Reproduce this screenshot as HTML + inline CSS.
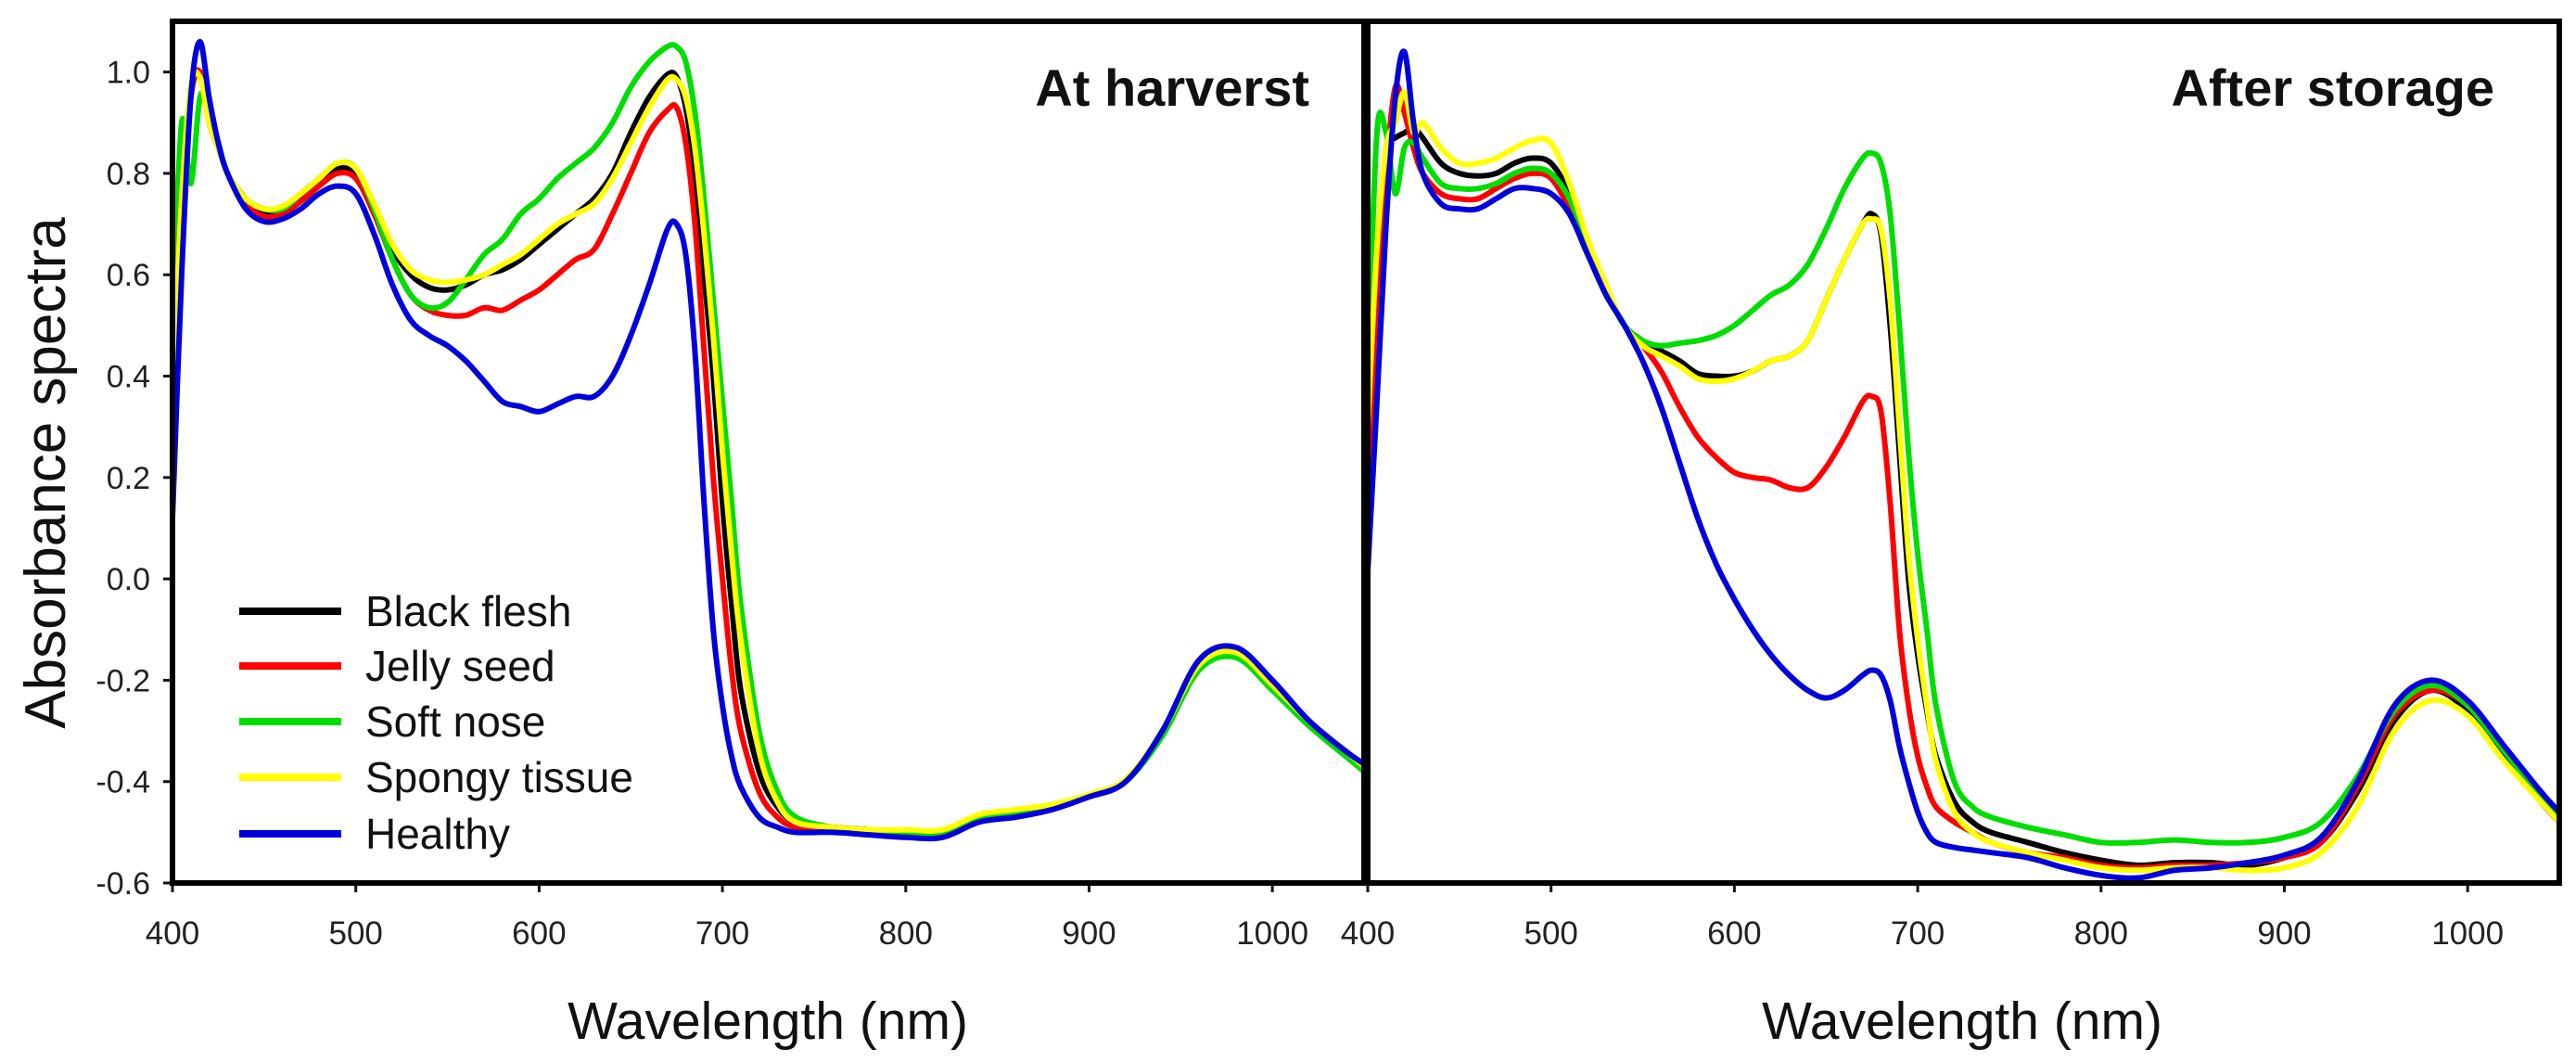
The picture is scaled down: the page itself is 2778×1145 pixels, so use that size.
<!DOCTYPE html>
<html><head><meta charset="utf-8">
<style>
html,body{margin:0;padding:0;background:#fff;}
svg{display:block;font-family:"Liberation Sans",Arial,sans-serif;}
</style></head>
<body>
<svg id="chart" width="2778" height="1145" viewBox="0 0 2778 1145" xmlns="http://www.w3.org/2000/svg">
<rect width="2778" height="1145" fill="#fff"/>
<g id="axes"></g>
<g id="series"></g>
<g id="frames"></g>
<text x="0" y="0" transform="translate(70,510) rotate(-90)" text-anchor="middle" font-size="62" fill="#111">Absorbance spectra</text>
<text x="828" y="1120" text-anchor="middle" font-size="57" fill="#111">Wavelength (nm)</text>
<text x="2116" y="1120" text-anchor="middle" font-size="57" fill="#111">Wavelength (nm)</text>
<text x="1412" y="114" text-anchor="end" font-size="56" font-weight="bold" fill="#111">At harverst</text>
<text x="2690" y="114" text-anchor="end" font-size="56" font-weight="bold" fill="#111">After storage</text>
<g id="legend"></g>
</svg>
<script>
const wavelengths=[400,405,410,415,420,425,430,440,450,460,470,480,490,500,510,520,530,540,550,560,570,580,590,600,610,620,630,640,650,660,670,675,680,685,690,695,700,705,710,720,730,740,760,780,800,820,840,860,880,900,920,940,960,980,1000,1020,1040,1050];
const seriesNames=["Black flesh","Jelly seed","Soft nose","Spongy tissue","Healthy"];
const yTicks=[-0.6,-0.4,-0.2,0.0,0.2,0.4,0.6,0.8,1.0];
const yTickLabels=["-0.6","-0.4","-0.2","0.0","0.2","0.4","0.6","0.8","1.0"];
const xTicks=[400,500,600,700,800,900,1000];
const harvestBlack=[.3,.7,.95,1.0,.92,.86,.8,.75,.72,.725,.75,.78,.81,.80,.73,.65,.6,.575,.57,.58,.6,.61,.63,.66,.69,.72,.75,.80,.88,.95,.995,.99,.93,.8,.6,.4,.15,-.05,-.22,-.38,-.45,-.48,-.49,-.495,-.5,-.5,-.47,-.46,-.45,-.43,-.4,-.3,-.17,-.145,-.21,-.28,-.34,-.37];
const harvestRed=[.2,.65,.95,1.0,.9,.85,.8,.74,.715,.72,.745,.775,.8,.79,.72,.63,.56,.53,.52,.52,.535,.53,.55,.57,.6,.63,.65,.72,.8,.88,.925,.93,.86,.7,.45,.2,0,-.18,-.3,-.42,-.47,-.49,-.495,-.5,-.5,-.5,-.47,-.46,-.45,-.43,-.4,-.3,-.17,-.145,-.21,-.28,-.34,-.37];
const harvestGreen=[.5,.9,.78,.95,.93,.86,.8,.75,.73,.73,.76,.79,.82,.81,.73,.63,.56,.535,.545,.59,.64,.67,.72,.75,.79,.82,.85,.9,.97,1.02,1.05,1.05,1.02,.92,.75,.55,.35,.15,-.05,-.3,-.42,-.47,-.49,-.495,-.5,-.5,-.47,-.46,-.45,-.43,-.4,-.31,-.18,-.155,-.22,-.29,-.35,-.38];
const harvestYellow=[.35,.75,.97,.99,.9,.85,.8,.75,.73,.735,.76,.79,.82,.81,.74,.66,.61,.59,.585,.59,.6,.62,.64,.67,.7,.72,.74,.79,.86,.93,.985,.985,.95,.85,.68,.48,.25,.05,-.12,-.34,-.44,-.48,-.49,-.495,-.495,-.495,-.465,-.455,-.445,-.425,-.395,-.3,-.17,-.145,-.21,-.28,-.34,-.37];
const harvestBlue=[.12,.6,.95,1.06,.95,.86,.8,.73,.705,.71,.73,.76,.775,.76,.68,.58,.51,.48,.46,.43,.39,.35,.34,.33,.345,.36,.36,.4,.48,.58,.69,.7,.64,.45,.15,-.1,-.25,-.35,-.41,-.47,-.49,-.5,-.5,-.505,-.51,-.51,-.48,-.47,-.455,-.43,-.4,-.3,-.16,-.135,-.2,-.28,-.34,-.365];
const storageBlack=[.25,.6,.85,.87,.88,.89,.87,.82,.8,.795,.8,.82,.83,.82,.76,.66,.57,.5,.47,.45,.43,.405,.4,.4,.41,.43,.44,.47,.55,.63,.7,.72,.68,.5,.25,0,-.15,-.26,-.35,-.44,-.48,-.5,-.52,-.54,-.555,-.565,-.56,-.56,-.565,-.55,-.52,-.42,-.28,-.22,-.26,-.35,-.44,-.48];
const storageRed=[.1,.5,.8,.97,.92,.85,.8,.76,.75,.75,.77,.79,.8,.79,.73,.64,.57,.5,.46,.41,.34,.28,.24,.21,.2,.195,.18,.18,.22,.28,.35,.36,.33,.15,-.1,-.25,-.35,-.41,-.45,-.48,-.5,-.52,-.54,-.55,-.565,-.57,-.565,-.565,-.56,-.55,-.52,-.41,-.27,-.22,-.25,-.34,-.43,-.47];
const storageGreen=[.4,.88,.88,.76,.85,.86,.83,.78,.77,.77,.78,.8,.81,.8,.75,.66,.57,.5,.47,.46,.465,.47,.48,.5,.53,.56,.58,.62,.69,.77,.83,.84,.82,.72,.5,.25,.05,-.1,-.25,-.4,-.45,-.47,-.49,-.505,-.52,-.52,-.515,-.52,-.52,-.51,-.48,-.39,-.26,-.21,-.25,-.34,-.43,-.47];
const storageYellow=[.3,.65,.85,.9,.96,.88,.9,.85,.82,.82,.83,.85,.865,.86,.78,.67,.58,.5,.46,.44,.42,.395,.39,.395,.41,.43,.44,.47,.55,.63,.7,.71,.69,.55,.3,.05,-.12,-.25,-.36,-.46,-.5,-.52,-.54,-.555,-.57,-.575,-.57,-.57,-.575,-.57,-.54,-.45,-.3,-.24,-.27,-.36,-.44,-.48];
const storageBlue=[.015,.35,.7,.95,1.04,.9,.8,.74,.73,.73,.75,.77,.77,.76,.72,.64,.56,.5,.43,.34,.23,.12,.03,-.04,-.1,-.15,-.19,-.22,-.235,-.22,-.19,-.18,-.19,-.24,-.33,-.4,-.46,-.5,-.52,-.53,-.535,-.54,-.55,-.57,-.585,-.59,-.575,-.57,-.56,-.545,-.51,-.4,-.25,-.2,-.24,-.33,-.42,-.46];

const NS="http://www.w3.org/2000/svg";
const colors=["#000000","#ff0000","#00dd00","#ffff00","#0000dd"];
const TOP=23,BOTTOM=952,XMIN=400,XMAX=1050,YMIN=-0.6,YMAX=1.1;
const panels=[{x0:186,x1:1471,key:"harvest",data:[harvestBlack,harvestRed,harvestGreen,harvestYellow,harvestBlue]},
              {x0:1475,x1:2760,key:"storage",data:[storageBlack,storageRed,storageGreen,storageYellow,storageBlue]}];
function xs(p,nm){return p.x0+(nm-XMIN)/(XMAX-XMIN)*(p.x1-p.x0);}
function ys(v){return BOTTOM-(v-YMIN)/(YMAX-YMIN)*(BOTTOM-TOP);}
function mk(tag,attrs,parent){const e=document.createElementNS(NS,tag);for(const k in attrs)e.setAttribute(k,attrs[k]);parent.appendChild(e);return e;}
const axes=document.getElementById("axes"),seriesG=document.getElementById("series"),frames=document.getElementById("frames");
const defs=mk("defs",{},document.getElementById("chart"));
panels.forEach((p,pi)=>{
  const cp=mk("clipPath",{id:"clip"+pi},defs);
  mk("rect",{x:p.x0,y:TOP,width:p.x1-p.x0,height:BOTTOM-TOP},cp);
  xTicks.forEach(t=>{
    const l=mk("line",{x1:xs(p,t),x2:xs(p,t),y1:BOTTOM,y2:BOTTOM+10,stroke:"#111","stroke-width":3},axes);
    
    
    const tx=mk("text",{x:xs(p,t),y:1018,"text-anchor":"middle","font-size":35,fill:"#222"},axes);
    tx.textContent=t;
    
    
  });
  p.data.forEach((vals,si)=>{
    const pts=wavelengths.map((w,i)=>[xs(p,w),ys(vals[i])]);
    let d="M"+pts[0][0].toFixed(1)+","+pts[0][1].toFixed(1);
    for(let i=0;i<pts.length-1;i++){
      const p0=pts[Math.max(0,i-1)],p1=pts[i],p2=pts[i+1],p3=pts[Math.min(pts.length-1,i+2)];
      const c1=[p1[0]+(p2[0]-p0[0])/6,p1[1]+(p2[1]-p0[1])/6];
      const c2=[p2[0]-(p3[0]-p1[0])/6,p2[1]-(p3[1]-p1[1])/6];
      d+=" C"+c1[0].toFixed(1)+","+c1[1].toFixed(1)+" "+c2[0].toFixed(1)+","+c2[1].toFixed(1)+" "+p2[0].toFixed(1)+","+p2[1].toFixed(1);
    }
    const path=mk("path",{d:d,fill:"none",stroke:colors[si],"stroke-width":6,"stroke-linejoin":"round","stroke-linecap":"round","clip-path":"url(#clip"+pi+")"},seriesG);
    
    
  });
  const fr=mk("rect",{x:p.x0,y:TOP,width:p.x1-p.x0,height:BOTTOM-TOP,fill:"none",stroke:"#000","stroke-width":6},frames);
  
  
});
yTicks.forEach((t,i)=>{
  const y=ys(t);
  const l=mk("line",{x1:176,x2:186,y1:y,y2:y,stroke:"#111","stroke-width":3},axes);
  
  
  const tx=mk("text",{x:162,y:y+12,"text-anchor":"end","font-size":34,fill:"#222"},axes);
  tx.textContent=yTickLabels[i];
  
  
});
const leg=document.getElementById("legend");
const legY=[659,718,778,838,899];
seriesNames.forEach((n,i)=>{
  const l=mk("line",{x1:258,x2:368,y1:legY[i],y2:legY[i],stroke:colors[i],"stroke-width":8},leg);
  
  
  const tx=mk("text",{x:394,y:legY[i]+16,"font-size":46,fill:"#111"},leg);
  tx.textContent=n;
  
  
});
</script>
</body></html>
